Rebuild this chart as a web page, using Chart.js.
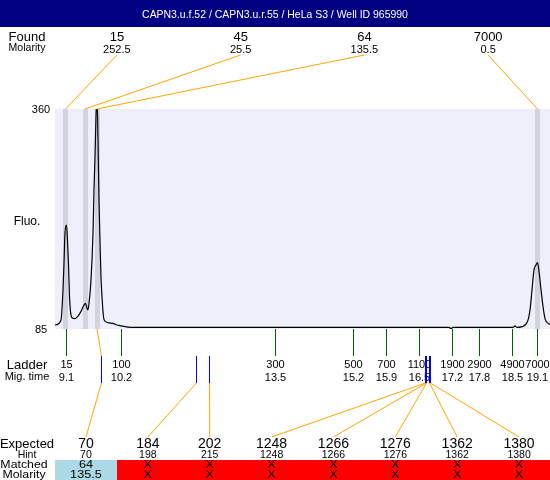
<!DOCTYPE html>
<html><head><meta charset="utf-8">
<script src="https://cdn.jsdelivr.net/npm/chart.js@4/dist/chart.umd.min.js"></script>
<style>html,body{margin:0;padding:0;background:#fff;}canvas{display:block;}</style>
</head><body>
<canvas id="c" width="550" height="480"></canvas>
<script>
// ---------- data ----------
const title = 'CAPN3.u.f.52 / CAPN3.u.r.55 / HeLa S3 / Well ID 965990';
const traceTimes = [8.856,8.983,9.026,9.047,9.068,9.100,9.121,9.142,9.164,9.185,9.217,9.280,9.344,9.408,9.472,9.503,9.535,9.556,9.578,9.620,9.663,9.684,9.705,9.726,9.748,9.769,9.790,9.811,9.832,9.854,9.886,9.917,9.981,10.087,10.172,10.257,10.469,11.934,14.057,17.221,17.263,17.306,18.580,18.622,18.665,18.771,18.834,18.898,18.941,18.983,19.025,19.068,19.100,19.132,19.174,19.217,19.259,19.323,19.365];
const traceFluo  = [90,96,134,167,205,215,196,167,125,107,99,98,101,107,115,117,111,109,117,146,205,259,300,350,375,321,246,196,150,125,100,95,93,92,90,89,87,87,87,87,85.5,87,87,89,87,88,90,96,109,134,159,165,168,157,134,113,98,92,91];
const yTicks = [360, 85];
const foundSizes    = ['15','45','64','7000'];
const foundMolarity = ['252.5','25.5','135.5','0.5'];
const foundTimes    = [9.079, 9.493, 9.748, 19.100];
const ladderSizes      = ['15','100','300','500','700','1100','1900','2900','4900','7000'];
const ladderTimeLabels = ['9.1','10.2','13.5','15.2','15.9','16.5','17.2','17.8','18.5','19.1'];
const ladderTimes      = [9.100,10.268,13.537,15.193,15.894,16.595,17.295,17.869,18.569,19.100];
const expectedSizes   = ['70','184','202','1248','1266','1276','1362','1380'];
const hintSizes       = ['70','198','215','1248','1266','1276','1362','1380'];
const expectedTimes   = [9.843,11.860,12.136,16.722,16.743,16.745,16.807,16.828];
const matchedSizes    = ['64','X','X','X','X','X','X','X'];
const matchedMolarity = ['135.5','X','X','X','X','X','X','X'];
const matchedPeak     = [2,null,null,null,null,null,null,null]; // index into found peaks

// ---------- helpers ----------
const FONT = '"Liberation Sans", Arial, Helvetica, sans-serif';
function txt(ctx, s, x, y, size, align, color, sx) {
  ctx.save();
  ctx.font = size + 'px ' + FONT;
  ctx.fillStyle = color || '#000';
  ctx.textAlign = align || 'center';
  ctx.textBaseline = 'alphabetic';
  ctx.translate(x, y);
  if (sx) ctx.scale(sx, 1);
  ctx.fillText(s, 0, 0);
  ctx.restore();
}
function seg(ctx, x1, y1, x2, y2, color, w) {
  ctx.save();
  ctx.strokeStyle = color; ctx.lineWidth = w || 1;
  ctx.beginPath(); ctx.moveTo(x1, y1); ctx.lineTo(x2, y2); ctx.stroke();
  ctx.restore();
}
const crisp = v => Math.floor(v) + 0.5;

const ORANGE = '#ffa500', GREEN = '#006400', BLUE = '#0000ff';

const decor = {
  id: 'decor',
  beforeDraw(chart) {
    const ctx = chart.ctx, a = chart.chartArea, xs = chart.scales.x;
    ctx.save();
    ctx.fillStyle = '#ffffff'; ctx.fillRect(0, 0, chart.width, chart.height);
    ctx.fillStyle = '#000080'; ctx.fillRect(0, 0, chart.width, 27);
    ctx.fillStyle = '#efeffb'; ctx.fillRect(a.left, a.top, a.right - a.left, a.bottom - a.top);
    ctx.fillStyle = '#d3d3e0';
    foundTimes.forEach(t => {
      const px = xs.getPixelForValue(t);
      ctx.fillRect(Math.round(px - 2.5), a.top, 5, a.bottom - a.top);
    });
    ctx.restore();
  },
  afterDraw(chart) {
    const ctx = chart.ctx, a = chart.chartArea, xs = chart.scales.x, ys = chart.scales.y;
    const W = a.right - a.left;
    // header
    txt(ctx, title, chart.width / 2, 18, 11, 'center', '#ffffff', 0.95);
    // found row
    const fw = W / foundSizes.length;
    txt(ctx, 'Found', 27, 41, 13);
    txt(ctx, 'Molarity', 27, 51, 10.5);
    foundSizes.forEach((s, i) => {
      const cx = a.left + fw * (i + 0.5);
      txt(ctx, s, cx, 41, 13);
      txt(ctx, foundMolarity[i], cx, 53, 11);
      seg(ctx, cx, 55, xs.getPixelForValue(foundTimes[i]), a.top, ORANGE, 1);
    });
    // y labels
    yTicks.forEach(v => txt(ctx, String(v), 41, ys.getPixelForValue(v) + 4, 11));
    txt(ctx, 'Fluo.', 27, 225, 12);
    // ladder
    txt(ctx, 'Ladder', 27, 369, 13);
    txt(ctx, 'Mig. time', 27, 380, 11);
    ladderTimes.forEach((t, i) => {
      const px = crisp(xs.getPixelForValue(t));
      seg(ctx, px, a.bottom, px, 356, GREEN, 1);
      txt(ctx, ladderSizes[i], px, 368, 11);
      txt(ctx, ladderTimeLabels[i], px, 381, 11);
    });
    // expected
    const ew = W / expectedSizes.length;
    txt(ctx, 'Expected', 27, 448, 13);
    txt(ctx, 'Hint', 27, 458, 10.5);
    // matched table background
    expectedSizes.forEach((s, i) => {
      const x0 = a.left + ew * i;
      ctx.fillStyle = matchedPeak[i] !== null ? '#add8e6' : '#ff0000';
      ctx.fillRect(Math.round(x0), 460, Math.round(x0 + ew) - Math.round(x0), 20);
    });
    txt(ctx, 'Matched', 24, 468, 11, 'center', '#000', 1.12);
    txt(ctx, 'Molarity', 24, 478, 11, 'center', '#000', 1.12);
    expectedSizes.forEach((s, i) => {
      const cx = a.left + ew * (i + 0.5);
      const px = crisp(xs.getPixelForValue(expectedTimes[i]));
      if (matchedPeak[i] !== null) {
        seg(ctx, xs.getPixelForValue(foundTimes[matchedPeak[i]]), a.bottom, px, 356, ORANGE, 1);
      }
      seg(ctx, px, 383, cx, 437, ORANGE, 1);
      seg(ctx, px, 356, px, 383, BLUE, 1);
      txt(ctx, s, cx, 448, 14);
      txt(ctx, hintSizes[i], cx, 458, 10.5);
      txt(ctx, matchedSizes[i], cx, 468, 11, 'center', '#000', 1.15);
      txt(ctx, matchedMolarity[i], cx, 478, 11, 'center', '#000', 1.15);
    });
  }
};

new Chart(document.getElementById('c'), {
  type: 'line',
  data: {
    datasets: [{
      data: traceTimes.map((t, i) => ({ x: t, y: traceFluo[i] })),
      borderColor: '#000000',
      borderWidth: 1.2,
      pointRadius: 0,
      fill: false,
      cubicInterpolationMode: 'monotone'
    }]
  },
  options: {
    responsive: false,
    animation: false,
    devicePixelRatio: 1,
    events: [],
    layout: { padding: { left: 55, right: 0, top: 109, bottom: 151 } },
    plugins: { legend: { display: false }, tooltip: { enabled: false }, title: { display: false } },
    scales: {
      x: { type: 'linear', min: 8.856, max: 19.365, display: false },
      y: { min: 85, max: 360, display: false }
    }
  },
  plugins: [decor]
});
</script>
</body></html>
